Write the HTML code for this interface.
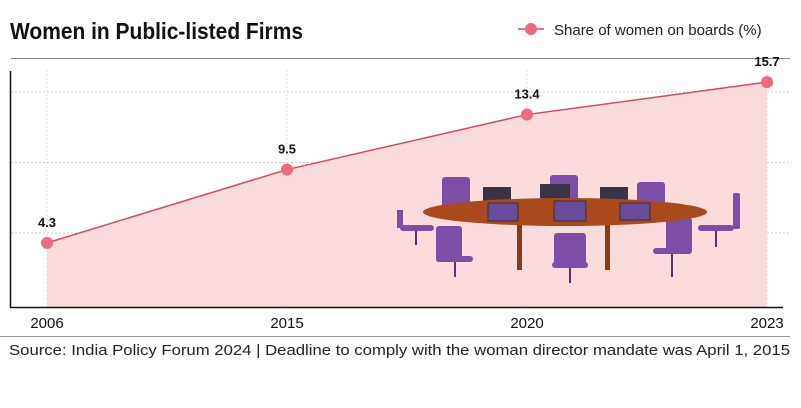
<!DOCTYPE html>
<html><head><meta charset="utf-8"><style>
body{margin:0;background:#fff;width:801px;height:403px;overflow:hidden;font-family:"Liberation Sans",sans-serif}
</style></head><body>
<svg width="801" height="403" xmlns="http://www.w3.org/2000/svg">
<text x="10" y="39" font-family="Liberation Sans Narrow, Liberation Sans, sans-serif" font-weight="bold" font-size="23" fill="#111" textLength="293" lengthAdjust="spacingAndGlyphs">Women in Public-listed Firms</text>
<g>
<line x1="518" y1="29" x2="544" y2="29" stroke="#d9485f" stroke-width="1.5"/>
<circle cx="531" cy="29" r="6" fill="#ee6a7c"/>
<text x="554" y="35" font-size="15" fill="#222">Share of women on boards (%)</text>
</g>
<line x1="11" y1="58.5" x2="790" y2="58.5" stroke="#888" stroke-width="1"/>
<g id="grid"></g>
<path id="area" fill="#fadcdc"/>
<g id="vgrid"></g>
<g>
<g fill="#7b4fa6">
<rect x="442" y="177" width="28" height="36" rx="3"/><rect x="550" y="175" width="28" height="30" rx="3"/><rect x="637" y="182" width="28" height="28" rx="3"/>
<rect x="400" y="225" width="34" height="6" rx="3"/><rect x="397" y="210" width="6" height="18"/>
<rect x="436" y="226" width="26" height="36" rx="3"/><rect x="436" y="256" width="37" height="6" rx="3"/>
<rect x="554" y="233" width="32" height="34" rx="3"/><rect x="552" y="262" width="36" height="6" rx="3"/>
<rect x="666" y="218" width="26" height="36" rx="3"/><rect x="653" y="248" width="38" height="6" rx="3"/>
<rect x="698" y="225" width="36" height="6" rx="3"/><rect x="733" y="193" width="7" height="36" rx="2"/>
</g>
<g stroke="#553377" stroke-width="2">
<line x1="416" y1="231" x2="416" y2="245"/><line x1="455" y1="262" x2="455" y2="277"/><line x1="570" y1="268" x2="570" y2="283"/><line x1="672" y1="254" x2="672" y2="277"/><line x1="716" y1="231" x2="716" y2="247"/>
</g>
<g fill="#8b3a14"><rect x="517" y="220" width="5" height="50"/><rect x="605" y="220" width="5" height="50"/></g>
<rect x="483" y="187" width="28" height="17" fill="#3a3346"/><rect x="540" y="184" width="30" height="18" fill="#3a3346"/><rect x="600" y="187" width="28" height="16" fill="#3a3346"/>
<ellipse cx="565" cy="212" rx="142" ry="14" fill="#a84a1c"/>
<g fill="#6a4a9a" stroke="#333" stroke-width="1"><rect x="488" y="203" width="30" height="18"/><rect x="554" y="201" width="32" height="20"/><rect x="620" y="203" width="30" height="17"/></g>
</g>
<g id="marks"></g>
<line x1="10.5" y1="71" x2="10.5" y2="308" stroke="#111" stroke-width="1.5"/>
<line x1="10" y1="307.5" x2="783" y2="307.5" stroke="#111" stroke-width="1.5"/>
<g id="xticks"></g>
<line x1="0" y1="336.5" x2="790" y2="336.5" stroke="#999" stroke-width="1"/>
<text x="9" y="355" font-size="14.3" fill="#222" textLength="781" lengthAdjust="spacingAndGlyphs">Source: India Policy Forum 2024 | Deadline to comply with the woman director mandate was April 1, 2015</text>
</svg>
<script>
const categories=["2006","2015","2020","2023"];
const shares=[4.3,9.5,13.4,15.7];
const valueLabels=["4.3","9.5","13.4","15.7"];
const gridValues=[5,10,15];
const NS="http://www.w3.org/2000/svg";
function xPos(i){return 47+i*240;}
function yPos(v){return 303.5-v*14.1;}
function mk(t,a,p){const e=document.createElementNS(NS,t);for(const k in a)e.setAttribute(k,a[k]);p.appendChild(e);return e;}
const grid=document.getElementById('grid');
gridValues.forEach(v=>{const l=mk('line',{x1:11,x2:790,y1:yPos(v),y2:yPos(v),stroke:'#ccc','stroke-dasharray':'2,2'},grid);

});
const vg=document.getElementById('vgrid');
categories.forEach((c,i)=>{const l=mk('line',{x1:xPos(i),x2:xPos(i),y1:70,y2:307,stroke:'#ddd','stroke-dasharray':'2,2'},vg);

});
let d='M'+xPos(0)+','+yPos(shares[0]);
shares.forEach((v,i)=>{d+=' L'+xPos(i)+','+yPos(v);});
document.getElementById('area').setAttribute('d',d+' L'+xPos(shares.length-1)+',307 L'+xPos(0)+',307 Z');
const m=document.getElementById('marks');
const line=mk('path',{d:d,fill:'none',stroke:'#d9485f','stroke-width':1.5},m);


shares.forEach((v,i)=>{
const c=mk('circle',{cx:xPos(i),cy:yPos(v),r:6,fill:'#ee6a7c'},m);


const t=mk('text',{x:xPos(i),y:yPos(v)-16,'text-anchor':'middle','font-size':13,'font-weight':'bold',fill:'#111'},m);
t.textContent=valueLabels[i];

});
const xt=document.getElementById('xticks');
categories.forEach((c,i)=>{const t=mk('text',{x:xPos(i),y:328,'text-anchor':'middle','font-size':15,fill:'#111'},xt);
t.textContent=c;

});
</script>
</body></html>
